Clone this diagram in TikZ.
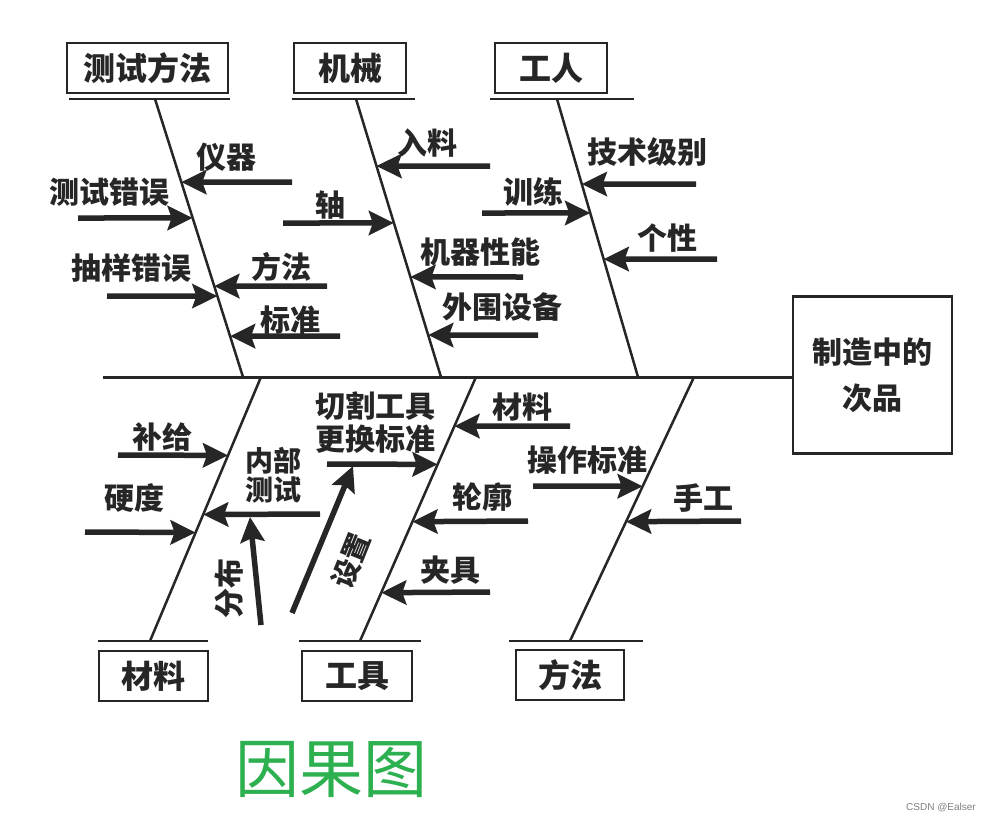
\documentclass[tikz,border=0pt]{standalone}
\usepackage{fontspec}
\newfontfamily\cjk{Noto Sans CJK SC}
\newfontfamily\wmfont{Liberation Sans}
\usepackage{tikz}
\usetikzlibrary{arrows.meta,calc}
\definecolor{ink}{HTML}{262626}
\definecolor{titlegreen}{HTML}{2DB050}
\tikzset{
  catbox/.style={draw=ink,line width=2.5pt,minimum height=50pt,inner sep=0pt,text=ink,
    font=\cjk\bfseries\fontsize{32}{36}\selectfont},
  bone/.style={draw=ink,line width=2.5pt},
  cause/.style={draw=ink,line width=5.5pt,-{Stealth[length=25pt,width=24pt,inset=4pt]}},
  lbl/.style={inner sep=0pt,text=ink,font=\cjk\bfseries\fontsize{30}{30}\selectfont},
}

\begin{document}
\begin{tikzpicture}[x=1pt,y=-1pt]
        \fill[white] (0,0) rectangle (998,822);
        \useasboundingbox (0,0) rectangle (998,822);
        % head and spine
        \node[catbox,minimum width=159pt,minimum height=157pt,align=center,
          font=\cjk\bfseries\fontsize{30}{46}\selectfont] (head) at (872.5,375) {制造中的\\次品};
        \coordinate (sp) at (103,377);
        \draw[ink,line width=3pt] (sp) -- (sp -| head.west);
        % category boxes
        \node[catbox,minimum width=161pt] (ceshi) at (147.5,68) {测试方法};
        \node[catbox,minimum width=112pt] (jixie) at (350,68) {机械};
        \node[catbox,minimum width=112pt] (gongren) at (551,68) {工人};
        \node[catbox,minimum width=109pt] (cailiao) at (153.5,676) {材料};
        \node[catbox,minimum width=110pt] (gongju) at (357,676) {工具};
        \node[catbox,minimum width=108pt] (fangfa) at (570,675) {方法};
        \draw[bone] (69,99) -- (230,99);
        \draw[bone] (292,99) -- (415,99);
        \draw[bone] (490,99) -- (634,99);
        \draw[bone] (98,641) -- (208,641);
        \draw[bone] (299,641) -- (421,641);
        \draw[bone] (509,641) -- (643,641);
        % bones
        \coordinate (t1) at (155,99);  \coordinate (b1) at (243,377);
        \coordinate (t2) at (356,99);  \coordinate (b2) at (441,377);
        \coordinate (t3) at (557,99);  \coordinate (b3) at (638,377);
        \coordinate (t4) at (261,377); \coordinate (b4) at (150,641);
        \coordinate (t5) at (476,377); \coordinate (b5) at (360,641);
        \coordinate (t6) at (694,377); \coordinate (b6) at (570,641);
        \draw[bone] (t1) -- (b1);
        \draw[bone] (t2) -- (b2);
        \draw[bone] (t3) -- (b3);
        \draw[bone] (t4) -- (b4);
        \draw[bone] (t5) -- (b5);
        \draw[bone] (t6) -- (b6);
        % causes: test method
        \node[lbl] (yiqi) at (226,157) {仪器};
        \node[lbl] (cscw) at (109,192) {测试错误};
        \node[lbl] (cycw) at (131,268) {抽样错误};
        \node[lbl] (ff) at (281,267) {方法};
        \node[lbl] (bz) at (290,320) {标准};
        \coordinate (yiqi-s) at (292,182);
        \coordinate (cscw-s) at (78,218);
        \coordinate (cycw-s) at (107,296);
        \coordinate (ff-s) at (327,286);
        \coordinate (bz-s) at (340,336);
        \draw[cause] (yiqi-s) -- ($(t1)!.299!(b1)$);
        \draw[cause] (cscw-s) -- ($(t1)!.428!(b1)$);
        \draw[cause] (cycw-s) -- ($(t1)!.709!(b1)$);
        \draw[cause] (ff-s) -- ($(t1)!.673!(b1)$);
        \draw[cause] (bz-s) -- ($(t1)!.853!(b1)$);
        % causes: machine
        \node[lbl] (ruliao) at (427,143) {入料};
        \node[lbl] (zhou) at (330,205) {轴};
        \node[lbl] (jqxn) at (480,252) {机器性能};
        \node[lbl] (wwsb) at (502,307) {外围设备};
        \coordinate (ruliao-s) at (490,166);
        \coordinate (zhou-s) at (283,223);
        \coordinate (jqxn-s) at (523,277);
        \coordinate (wwsb-s) at (538,335);
        \draw[cause] (ruliao-s) -- ($(t2)!.241!(b2)$);
        \draw[cause] (zhou-s) -- ($(t2)!.446!(b2)$);
        \draw[cause] (jqxn-s) -- ($(t2)!.640!(b2)$);
        \draw[cause] (wwsb-s) -- ($(t2)!.849!(b2)$);
        % causes: worker
        \node[lbl] (jsjb) at (647,152) {技术级别};
        \node[lbl] (xunlian) at (533,192) {训练};
        \node[lbl] (gexing) at (667,238) {个性};
        \coordinate (jsjb-s) at (696,184);
        \coordinate (xunlian-s) at (482,213);
        \coordinate (gexing-s) at (717,259);
        \draw[cause] (jsjb-s) -- ($(t3)!.306!(b3)$);
        \draw[cause] (xunlian-s) -- ($(t3)!.410!(b3)$);
        \draw[cause] (gexing-s) -- ($(t3)!.576!(b3)$);
        % causes: material
        \node[lbl] (bugei) at (162,437) {补给};
        \node[lbl] (yingdu) at (134,498) {硬度};
        \node[lbl,align=center,font=\cjk\bfseries\fontsize{28}{29}\selectfont] (nbcs) at (273,475) {内部\\测试};
        \node[lbl,rotate=90] (fenbu) at (229,588) {分布};
        \coordinate (bugei-s) at (118,455);
        \coordinate (yingdu-s) at (85,532);
        \coordinate (nbcs-s) at (320,514);
        \coordinate (fenbu-s) at (261,625);
        \coordinate (fenbu-e) at (250,517);
        \draw[cause] (bugei-s) -- ($(t4)!.297!(b4)$);
        \draw[cause] (yingdu-s) -- ($(t4)!.589!(b4)$);
        \draw[cause] (nbcs-s) -- ($(t4)!.521!(b4)$);
        \draw[cause] (fenbu-s) -- (fenbu-e);
        % causes: tools
        \node[lbl,align=center,font=\cjk\bfseries\fontsize{30}{33}\selectfont] (qggj) at (375,423) {切割工具\\更换标准};
        \node[lbl] (lunkuo) at (482,497) {轮廓};
        \node[lbl] (jiaju) at (450,570) {夹具};
        \node[lbl] (cl) at (522,407) {材料};
        \node[lbl,rotate=68,font=\cjk\bfseries\fontsize{28}{28}\selectfont] (shezhi) at (351,561) {设置};
        \coordinate (shezhi-s) at (292,613);
        \coordinate (shezhi-e) at (353,466);
        \coordinate (qggj-s) at (327,464);
        \coordinate (lunkuo-s) at (528,521);
        \coordinate (jiaju-s) at (490,592);
        \coordinate (cl-s) at (570,426);
        \draw[cause] (qggj-s) -- ($(t5)!.331!(b5)$);
        \draw[cause] (lunkuo-s) -- ($(t5)!.548!(b5)$);
        \draw[cause] (jiaju-s) -- ($(t5)!.817!(b5)$);
        \draw[cause] (cl-s) -- ($(t5)!.186!(b5)$);
        \draw[cause] (shezhi-s) -- (shezhi-e);
        % causes: method
        \node[lbl] (czbz) at (587,460) {操作标准};
        \node[lbl] (shougong) at (703,498) {手工};
        \coordinate (czbz-s) at (533,486);
        \coordinate (shougong-s) at (741,521);
        \draw[cause] (czbz-s) -- ($(t6)!.414!(b6)$);
        \draw[cause] (shougong-s) -- ($(t6)!.548!(b6)$);
        % title and mark
        \node[text=titlegreen,font=\cjk\fontsize{64}{64}\selectfont] (title) at (331,769) {因果图};
        \node[text=gray,font=\wmfont\fontsize{10}{10}\selectfont] (mark) at (941,808) {CSDN @Ealser};
    \end{tikzpicture}
\end{document}
